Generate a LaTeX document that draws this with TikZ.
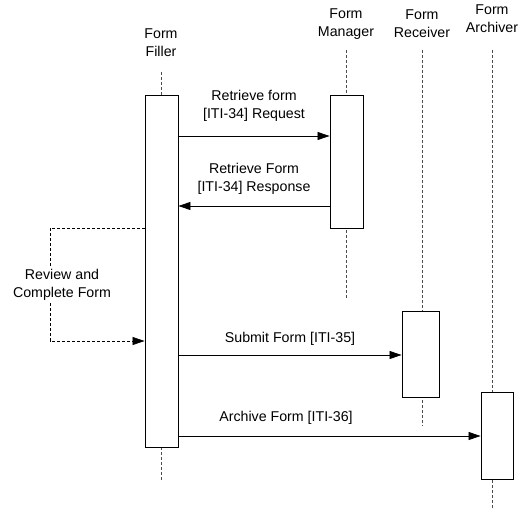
\documentclass[tikz,border=0pt]{standalone}
\usepackage{fontspec}
\setmainfont{Liberation Sans}
\usetikzlibrary{arrows.meta}
\begin{document}
\begin{tikzpicture}[x=1pt,y=-1pt,
  lbl/.style={font=\fontsize{14.2}{18}\selectfont, align=center, inner sep=0pt},
  act/.style={draw=black, fill=white, line width=0.9pt, inner sep=0pt},
  life/.style={dashed, dash pattern=on 3pt off 2pt, draw=black!70, line width=0.7pt},
  msg/.style={draw=black, line width=0.8pt, -{Triangle[length=12pt,width=8pt]}},
  loopm/.style={draw=black, line width=0.7pt, dash pattern=on 3pt off 2pt, -{Triangle[length=12pt,width=8pt]}}
]
\useasboundingbox (0,0) rectangle (527,508);
% headers
\node[lbl] (hF) at (161,43) {Form\\Filler};
\node[lbl] (hM) at (346,24) {Form\\Manager};
\node[lbl] (hR) at (422,24) {Form\\Receiver};
\node[lbl] (hA) at (492,19) {Form\\Archiver};
% lifeline end points
\coordinate (fTop) at (161,72);
\coordinate (fBot) at (161,480);
\coordinate (mTop) at (346,50);
\coordinate (mBot) at (346,298);
\coordinate (rTop) at (422,50);
\coordinate (rBot) at (422,426);
\coordinate (aTop) at (492,50);
\coordinate (aBot) at (492,508);
\draw[life] (fTop) -- (fBot);
\draw[life] (mTop) -- (mBot);
\draw[life] (rTop) -- (rBot);
\draw[life] (aTop) -- (aBot);
% activation boxes
\node[act, minimum width=33pt, minimum height=352pt] (bF) at (161.5,271) {};
\node[act, minimum width=33pt, minimum height=133pt] (bM) at (346.5,161.5) {};
\node[act, minimum width=37pt, minimum height=86pt] (bR) at (420.5,354) {};
\node[act, minimum width=32pt, minimum height=87pt] (bA) at (497,435.5) {};
% messages
\draw[msg] (bF.east |- 0,136) -- (bM.west |- 0,136);
\node[lbl] (l1) at (254,106) {Retrieve form\\{}[ITI-34] Request};
\draw[msg] (bM.west |- 0,206) -- (bF.east |- 0,206);
\node[lbl] (l2) at (254,179) {Retrieve Form\\{}[ITI-34] Response};
% self loop
\coordinate (lp1) at (50,228);
\coordinate (lp2) at (50,341);
\draw[loopm] (bF.west |- 0,228) -- (lp1) -- (lp2) -- (bF.west |- 0,341);
\node[lbl, fill=white, inner sep=1pt] (l3) at (62,285) {Review and\\Complete Form};
\draw[msg] (bF.east |- 0,355) -- (bR.west |- 0,355);
\node[lbl] (l4) at (290,339) {Submit Form [ITI-35]};
\draw[msg] (bF.east |- 0,436) -- (bA.west |- 0,436);
\node[lbl] (l5) at (286,418) {Archive Form [ITI-36]};
\end{tikzpicture}
\end{document}
